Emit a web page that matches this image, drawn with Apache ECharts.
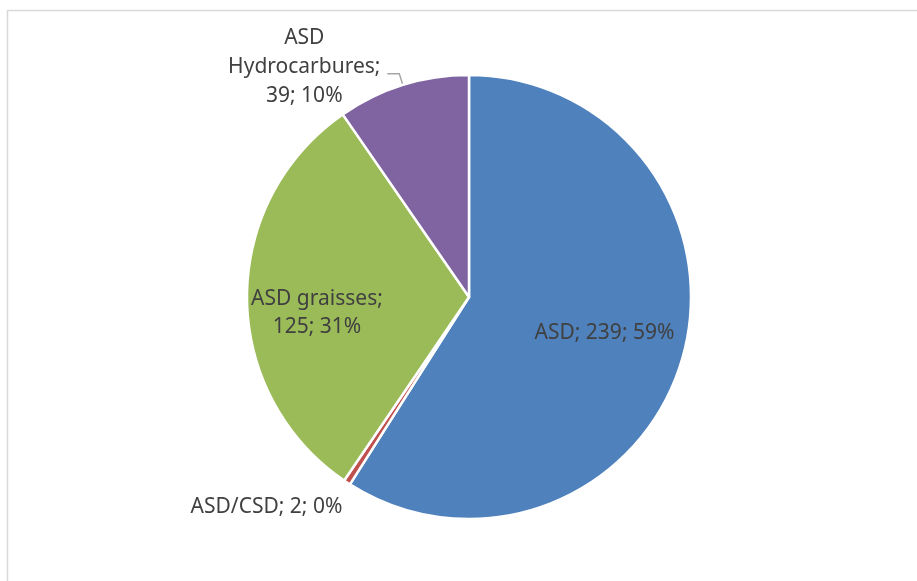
<!DOCTYPE html>
<html>
<head>
<meta charset="utf-8">
<script src="https://cdn.jsdelivr.net/npm/echarts@6/dist/echarts.min.js"></script>
<style>
html, body { margin: 0; padding: 0; background: #fff; }
#main { width: 917px; height: 581px; }
</style>
</head>
<body>
<div id="main"></div>
<script>
var names = ['ASD', 'ASD/CSD', 'ASD graisses', 'ASD Hydrocarbures'];
var values = [239, 2, 125, 39];
var colors = ['#4F81BD', '#C0504D', '#9BBB59', '#8064A2'];

var chartDom = document.getElementById('main');
var myChart = echarts.init(chartDom);
var option;

var textColor = '#404040';
var fontFamily = 'Noto Sans';

// label placement per slice (Excel style)
var labelCfg = [
    { position: 'inside', formatter: '{b}; {c}; {d}%' },
    { position: 'outside', formatter: '{b}; {c}; {d}%' },
    { position: 'inside', formatter: '{b};\n{c}; {d}%', lineHeight: 28 },
    {
        position: 'outside',
        distanceToLabelLine: 3,
        padding: [0, 0, 14, 0],
        formatter: function (p) {
            var parts = p.name.split(' ');
            return '{t|' + parts[0] + '}\n{t|' + parts[1] + ';}\n{t|' + p.value + '; ' + p.percent + '%}';
        },
        rich: {
            t: { width: 160, align: 'center', fontSize: 21, lineHeight: 29, color: textColor, fontFamily: fontFamily }
        }
    }
];
var labelShift = [[26, 4], [19, 15], [-38, 16], null];

var data = names.map(function (n, i) {
    return {
        name: n,
        value: values[i],
        itemStyle: { color: colors[i] },
        label: labelCfg[i],
        labelLine: { show: i === 3 }
    };
});

option = {
    backgroundColor: '#fff',
    animation: false,
    graphic: [{
        type: 'rect',
        shape: { x: 7.5, y: 10.5, width: 930, height: 600 },
        style: { fill: 'none', stroke: '#D9D9D9', lineWidth: 1.5 },
        silent: true
    }],
    series: [{
        type: 'pie',
        center: [469, 297],
        radius: 222,
        startAngle: 90,
        clockwise: true,
        percentPrecision: 0,
        avoidLabelOverlap: false,
        itemStyle: { borderColor: '#fff', borderWidth: 2.5 },
        label: {
            color: textColor,
            fontSize: 21,
            fontFamily: fontFamily,
            lineHeight: 28
        },
        labelLine: {
            length: 12,
            length2: 12,
            lineStyle: { color: '#A6A6A6', width: 1.5 }
        },
        labelLayout: function (params) {
            var s = labelShift[params.dataIndex];
            if (!s) return {};
            return { dx: s[0], dy: s[1] };
        },
        data: data
    }]
};

option && myChart.setOption(option);
</script>
</body>
</html>
